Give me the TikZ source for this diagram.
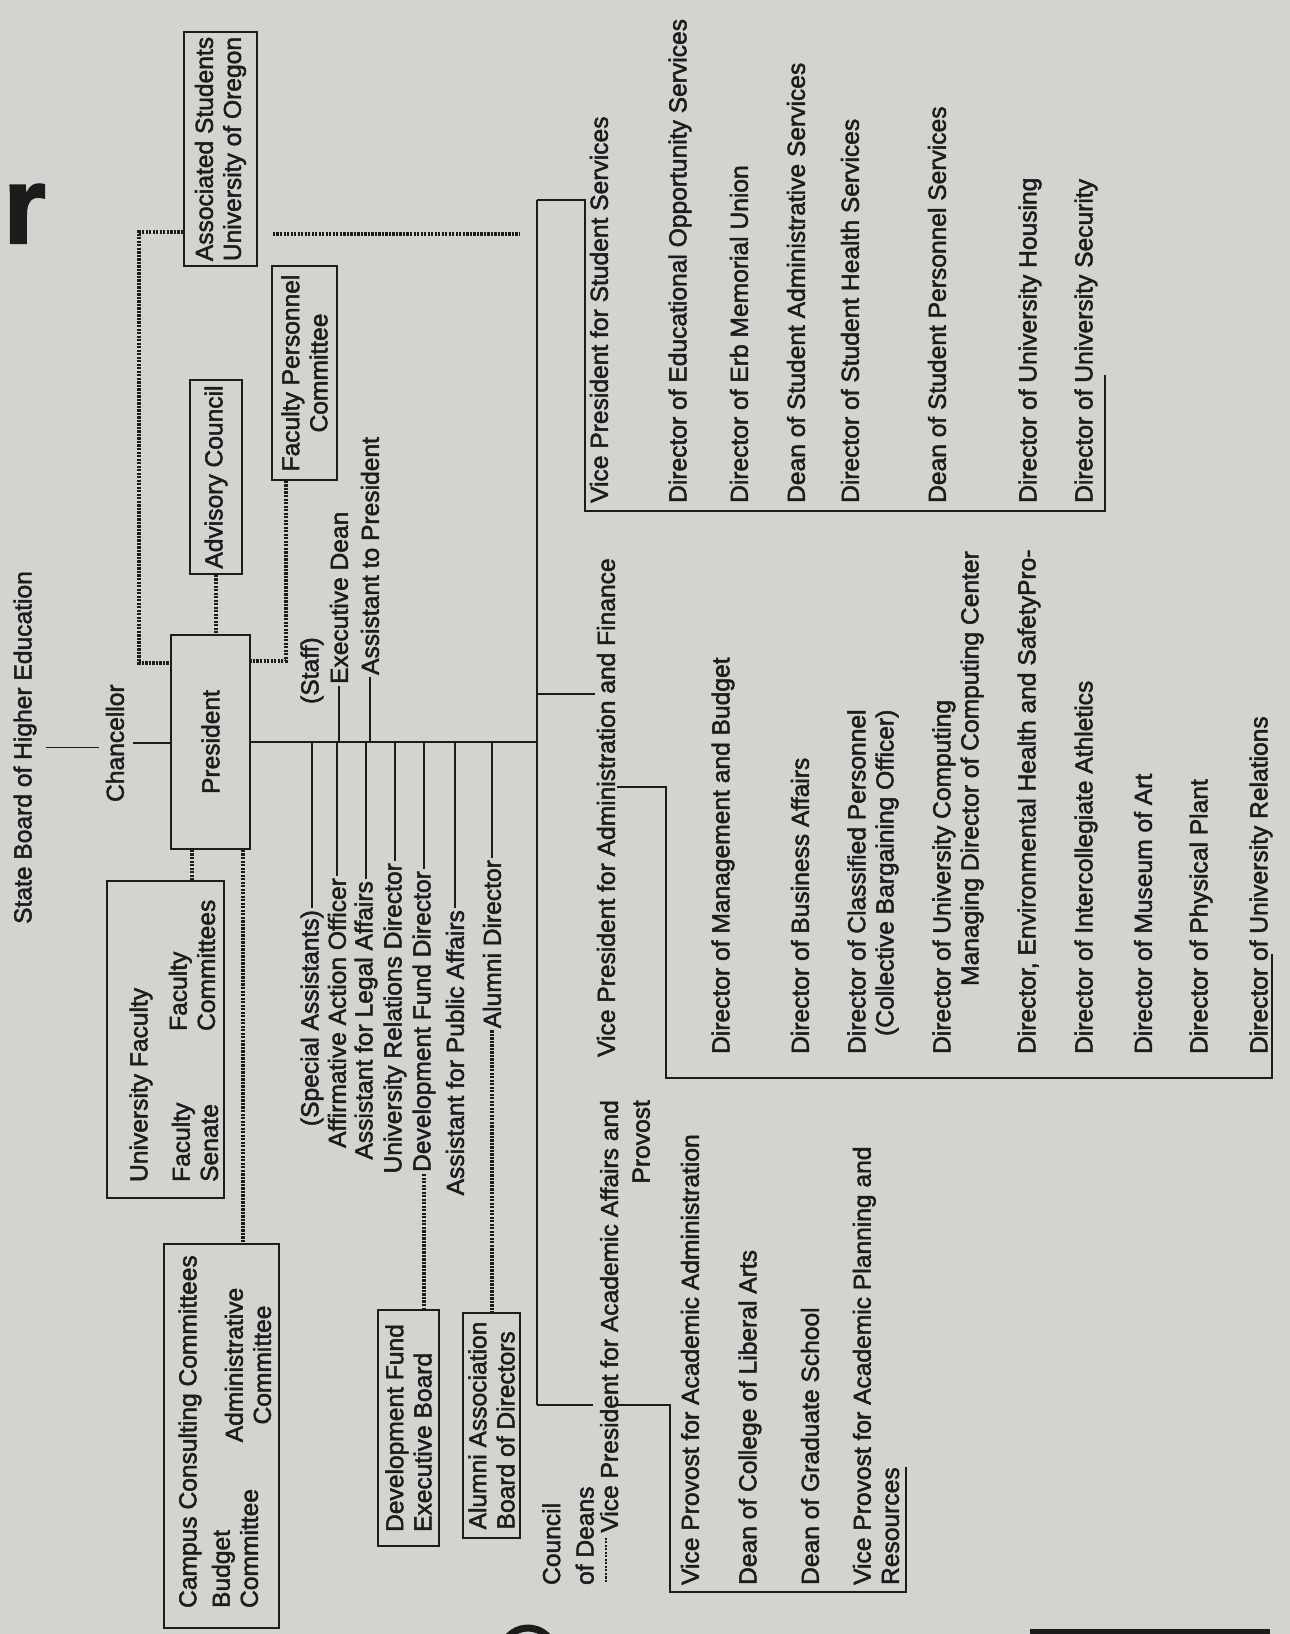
\documentclass[tikz,border=0pt]{standalone}
\usepackage{fontspec}
\setmainfont{Liberation Sans}[FakeBold=2]
\definecolor{paper}{RGB}{211,211,208}
\definecolor{ink}{RGB}{28,28,28}

\tikzset{
  lbl/.style={rotate=90, inner sep=1pt, text=ink, font=\fontsize{14}{16}\selectfont},
  box/.style={lbl, draw=ink, line width=1.1pt, inner sep=0pt, align=center},
  wire/.style={ink, line width=0.8pt},
  dotwire/.style={ink, line width=2.5pt, dash pattern=on 1.3pt off 0.7pt},
}

\begin{document}
\begin{tikzpicture}[x=0.02cm, y=-0.02cm]
  \fill[paper] (0,0) rectangle (1290,1634);
  \useasboundingbox (0,0) rectangle (1290,1634);

  % trunk down the middle
  \coordinate (ttop) at (537,200);
  \coordinate (tbot) at (537,1405);

  % Heading letter and page fragments at the edges
  \node[text=ink, font=\fontsize{62}{62}\selectfont\bfseries, anchor=base west, inner sep=0pt] (hd) at (3,243) {r};
  \draw[ink, line width=4pt] (528,1655) ++(200:27) arc[start angle=200, end angle=340, radius=27];
  \fill[ink] (1030,1629) rectangle (1270,1634);

  % Board, Chancellor, President
  \node[lbl, anchor=west] (board) at (25,926) {State Board of Higher Education};
  \node[lbl, anchor=west] (chanc) at (115,804) {Chancellor};
  \node[box, minimum width=4.28cm, minimum height=1.58cm] (pres) at (210.5,742) {President};
  \draw[wire, shorten <=4pt, shorten >=3pt] (board.south) -- (board.south -| chanc.north);
  \draw[wire, shorten <=4pt] (chanc.south) -- (chanc.south -| pres.north);

  % Councils above the President
  \node[box, minimum width=4.68cm, minimum height=1.46cm, align=left] (asuo) at (220.5,149) {Associated Students\\University of Oregon};
  \node[box, minimum width=3.88cm, minimum height=1.04cm] (advc) at (216,477) {Advisory Council};
  \node[box, minimum width=4.28cm, minimum height=1.3cm] (fpc) at (304.5,373) {Faculty Personnel\\Committee};
  \draw[dotwire] (asuo.north |- 0,232) -| (139,663) -- (pres.north |- 0,663);
  \draw[dotwire, shorten <=0.3cm, shorten >=0.34cm] (asuo.south |- 0,234) -- (ttop |- 0,234);
  \draw[dotwire] (advc.west) -- (advc.west |- pres.east);
  \draw[dotwire] ([xshift=0.3cm]fpc.north west) |- (pres.south |- 0,661);

  % Faculty and campus committees below the President
  \node[box, minimum width=6.34cm, minimum height=2.34cm] (ufac) at (165.5,1039.5) {};
  \node[lbl, anchor=west] (univf) at (141,1184) {University Faculty};
  \node[lbl, anchor=west, align=left] (senate) at (195,1184) {Faculty\\Senate};
  \node[lbl, anchor=west, align=left] (fcomm) at (192,1033) {Faculty\\Committees};
  \node[box, minimum width=7.68cm, minimum height=2.3cm] (ccc) at (221.5,1436) {};
  \node[lbl, anchor=west] (campus) at (190,1610) {Campus Consulting Committees};
  \node[lbl, anchor=west, align=left] (budget) at (235,1610) {Budget\\Committee};
  \node[lbl, align=center] (admin) at (248,1365) {Administrative\\Committee};
  \draw[dotwire] (pres.west -| 192,0) -- (ufac.east -| 192,0);
  \draw[dotwire] (pres.west -| 243,0) -- (ccc.east -| 243,0);

  % Staff
  \draw[wire] (pres.south) -- (pres.south -| ttop);
  \draw[wire] (ttop) -- (tbot);
  \node[lbl, anchor=west] (staff) at (312,706) {(Staff)};
  \node[lbl, anchor=west] (exdean) at (339,686) {Executive Dean};
  \node[lbl, anchor=west] (asstp) at (370,677) {Assistant to President};
  \draw[wire] (exdean.west) -- (exdean.west |- pres.south);
  \draw[wire] (asstp.west) -- (asstp.west |- pres.south);

  \node[lbl, anchor=east] (spec) at (312,908) {(Special Assistants)};
  \node[lbl, anchor=east] (affirm) at (337,876) {Affirmative Action Officer};
  \node[lbl, anchor=east] (legal) at (366,879) {Assistant for Legal Affairs};
  \node[lbl, anchor=east] (urel) at (395,861) {University Relations Director};
  \node[lbl, anchor=east] (devdir) at (424,869) {Development Fund Director};
  \node[lbl, anchor=east] (pubaff) at (455,908) {Assistant for Public Affairs};
  \node[lbl, anchor=east] (alumdir) at (492,858) {Alumni Director};
  \draw[wire] (spec.east) -- (spec.east |- pres.south);
  \draw[wire] (affirm.east) -- (affirm.east |- pres.south);
  \draw[wire] (legal.east) -- (legal.east |- pres.south);
  \draw[wire] (urel.east) -- (urel.east |- pres.south);
  \draw[wire] (devdir.east) -- (devdir.east |- pres.south);
  \draw[wire] (pubaff.east) -- (pubaff.east |- pres.south);
  \draw[wire] (alumdir.east) -- (alumdir.east |- pres.south);

  \node[box, minimum width=4.72cm, minimum height=1.22cm, align=left] (dfeb) at (408.5,1428) {Development Fund\\Executive Board};
  \node[box, minimum width=4.5cm, minimum height=1.14cm, align=left] (aabd) at (491.5,1425.5) {Alumni Association\\Board of Directors};
  \draw[dotwire] (devdir.west) -- (devdir.west |- dfeb.east);
  \draw[dotwire] (alumdir.west) -- (alumdir.west |- aabd.east);

  % Vice President for Student Services
  \node[lbl, anchor=west] (vpss) at (599,505) {Vice President for Student Services};
  \node[lbl, anchor=west] (deos) at (680,505) {Director of Educational Opportunity Services};
  \node[lbl, anchor=west] (demu) at (739,505) {Director of Erb Memorial Union};
  \node[lbl, anchor=west] (dsas) at (796,505) {Dean of Student Administrative Services};
  \node[lbl, anchor=west] (dshs) at (850,505) {Director of Student Health Services};
  \node[lbl, anchor=west] (dsps) at (937,505) {Dean of Student Personnel Services};
  \node[lbl, anchor=west] (duh) at (1030,505) {Director of University Housing};
  \node[lbl, anchor=west] (dus) at (1086,505) {Director of University Security};
  \draw[wire] (ttop) -- (585,200) -- (585,511) -- (1105,511) -- (1105,375);

  % Vice President for Administration and Finance
  \node[lbl, anchor=west] (vpaf) at (606,1059) {Vice President for Administration and Finance};
  \node[lbl, anchor=west] (dmb) at (723,1056) {Director of Management and Budget};
  \node[lbl, anchor=west] (dba) at (800,1056) {Director of Business Affairs};
  \node[lbl, anchor=west, align=left] (dcp) at (873,1056) {Director of Classified Personnel\\\hspace*{0.36cm}(Collective Bargaining Officer)};
  \node[lbl, anchor=west, align=left] (duc) at (958,1056) {Director of University Computing\\\hspace*{1.36cm}Managing Director of Computing Center};
  \node[lbl, anchor=west] (dehs) at (1029,1056) {Director, Environmental Health and SafetyPro-};
  \node[lbl, anchor=west] (dia) at (1086,1056) {Director of Intercollegiate Athletics};
  \node[lbl, anchor=west] (dma) at (1143,1056) {Director of Museum of Art};
  \node[lbl, anchor=west] (dpp) at (1201,1056) {Director of Physical Plant};
  \node[lbl, anchor=west] (dur) at (1261,1056) {Director of University Relations};
  \draw[wire] (537,694) -- (vpaf.north |- 0,694);
  \draw[wire] (vpaf.south |- 0,787) -- (666,787) -- (666,1078) -- (1272,1078) -- (1272,954);

  % Vice President for Academic Affairs
  \node[lbl, anchor=east, align=right] (vpaa) at (625,1098) {Vice President for Academic Affairs and\\[2pt]Provost};
  \node[lbl, anchor=west, align=left] (deans) at (568,1587) {Council\\[3pt]of Deans};
  \coordinate (cdl) at (606,1582);
  \draw[dotwire, line width=1.5pt, shorten >=2pt] (cdl) -- (cdl |- vpaa.west);
  \node[lbl, anchor=west] (vpaad) at (690,1587) {Vice Provost for Academic Administration};
  \node[lbl, anchor=west] (dcla) at (750,1587) {Dean of College of Liberal Arts};
  \node[lbl, anchor=west] (dgs) at (810,1587) {Dean of Graduate School};
  \node[lbl, anchor=west, align=left] (vpapr) at (876,1587) {Vice Provost for Academic Planning and\\Resources};
  \draw[wire] (tbot) -- (593,1405);
  \draw[wire] (615,1405) -- (670,1405) -- (670,1592) -- (906,1592) -- (906,1467);

\end{tikzpicture}
\end{document}
